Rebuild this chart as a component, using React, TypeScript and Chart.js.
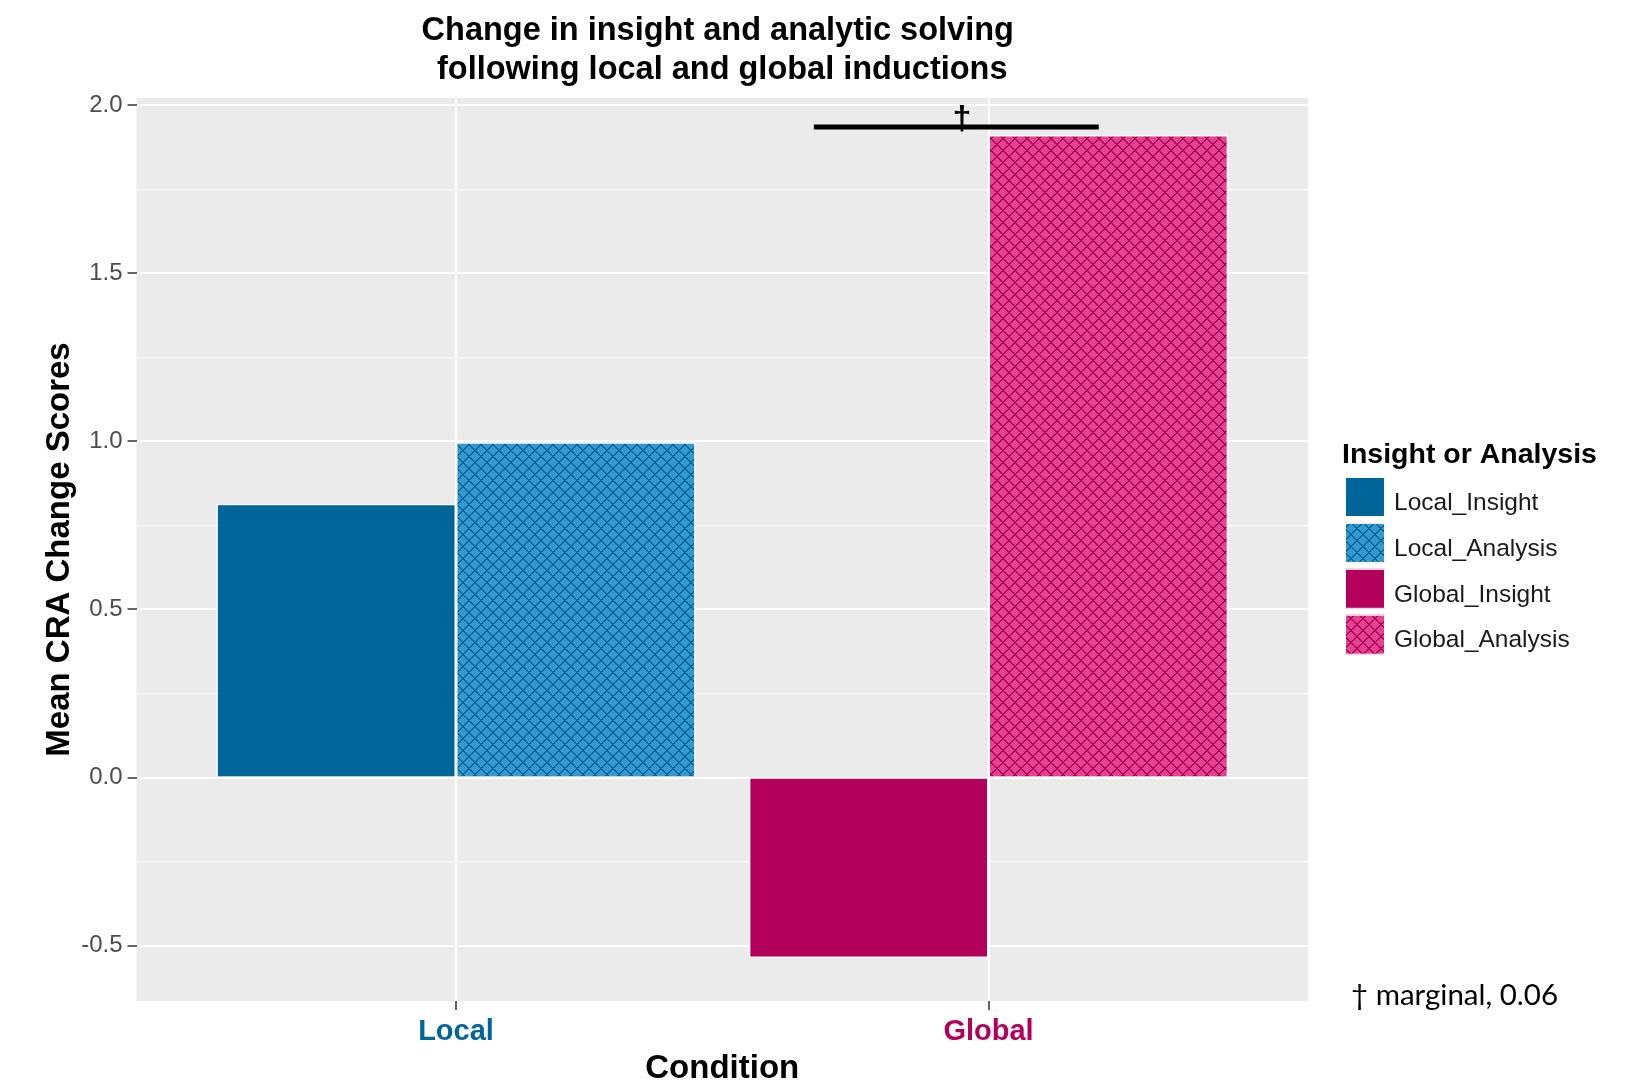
import React, { useEffect, useRef } from 'react';
import { Chart, registerables } from 'chart.js';

Chart.register(...registerables);

// ---- data ----
const categories = ['Local', 'Global'];
const categoryPositions = [1, 2];
const insightValues = [0.815, -0.537];
const analysisValues = [0.998, 1.912];
const legendTitle = 'Insight or Analysis';
const legendLabels = ['Local_Insight', 'Local_Analysis', 'Global_Insight', 'Global_Analysis'];
const yTickValues = [-0.5, -0.25, 0, 0.25, 0.5, 0.75, 1, 1.25, 1.5, 1.75, 2];
const yMajorTicks = [-0.5, 0, 0.5, 1, 1.5, 2];
const sigBracket = { from: 1.672, to: 2.207, y: 1.936, markX: 1.95, mark: '\u2020' };
const footnote = '\u2020 marginal, 0.06';
const titleLines = ['Change in insight and analytic solving ', 'following local and global inductions'];
const xTitle = 'Condition';
const yTitle = 'Mean CRA Change Scores';

// ---- styles ----
const FONT = "'Liberation Sans', Arial, Helvetica, sans-serif";
const categoryColors = ['#006699', '#B5005B'];
const solidColors = { localInsight: '#006699', globalInsight: '#B3005A' };
const patternColors = {
  localAnalysis: { bg: '#3399CC', fg: '#0C67A0' },
  globalAnalysis: { bg: '#E0468F', fg: '#B8005C' },
};

function makePattern(ctx: CanvasRenderingContext2D, bg: string, fg: string) {
  const size = 12;
  const c = document.createElement('canvas');
  c.width = size;
  c.height = size;
  const g = c.getContext('2d')!;
  g.fillStyle = bg;
  g.fillRect(0, 0, size, size);
  g.fillStyle = fg;
  for (let i = 0; i < size; i++) {
    for (let j = 0; j < size; j++) {
      if ((i + j) % size < 2 || (i - j + size) % size < 2) g.fillRect(i, j, 1, 1);
    }
  }
  return ctx.createPattern(c, 'repeat')!;
}

export default function App() {
  const ref = useRef<HTMLCanvasElement | null>(null);

  useEffect(() => {
    const canvas = ref.current!;
    const ctx = canvas.getContext('2d')!;
    const laPat = makePattern(ctx, patternColors.localAnalysis.bg, patternColors.localAnalysis.fg);
    const gaPat = makePattern(ctx, patternColors.globalAnalysis.bg, patternColors.globalAnalysis.fg);
    const legendFills: any[] = [solidColors.localInsight, laPat, solidColors.globalInsight, gaPat];

    const panelBg = {
      id: 'panelBg',
      beforeDraw(chart: any) {
        const { ctx: c, chartArea: a } = chart;
        c.save();
        c.fillStyle = '#EBEBEB';
        c.fillRect(a.left, a.top, a.right - a.left, a.bottom - a.top);
        c.restore();
      },
    };

    const extras = {
      id: 'extras',
      afterDatasetsDraw(chart: any) {
        const c = chart.ctx;
        const xs = chart.scales.x;
        const ys = chart.scales.y;
        c.save();
        const y = ys.getPixelForValue(sigBracket.y);
        c.strokeStyle = '#000';
        c.lineWidth = 5;
        c.beginPath();
        c.moveTo(xs.getPixelForValue(sigBracket.from), y);
        c.lineTo(xs.getPixelForValue(sigBracket.to), y);
        c.stroke();
        c.fillStyle = '#000';
        c.font = `bold 34px ${FONT}`;
        c.textAlign = 'center';
        c.textBaseline = 'alphabetic';
        c.fillText(sigBracket.mark, xs.getPixelForValue(sigBracket.markX), y + 2);
        c.restore();
      },
      afterDraw(chart: any) {
        const c = chart.ctx;
        c.save();
        // legend
        c.fillStyle = '#000';
        c.font = `bold 28.5px ${FONT}`;
        c.textAlign = 'left';
        c.textBaseline = 'middle';
        c.fillText(legendTitle, 1342, 455);
        legendLabels.forEach((lab, i) => {
          const top = 477 + i * 45.9;
          c.fillStyle = legendFills[i];
          c.fillRect(1345, top, 40, 40);
          c.strokeStyle = '#FFFFFF';
          c.lineWidth = 1;
          c.strokeRect(1345.5, top + 0.5, 39, 39);
          c.fillStyle = '#1A1A1A';
          c.font = `24.5px ${FONT}`;
          c.fillText(lab, 1394, top + 26);
        });
        // footnote
        c.fillStyle = '#000';
        c.font = `29.5px Lato, 'Open Sans', sans-serif`;
        c.fillText(footnote, 1351, 995);
        c.restore();
      },
    };

    const chart = new Chart(ctx, {
      type: 'bar',
      data: {
        datasets: [
          {
            label: 'Insight',
            data: categoryPositions.map((x, i) => ({ x, y: insightValues[i] })),
            backgroundColor: [solidColors.localInsight, solidColors.globalInsight],
            borderColor: '#FFFFFF',
            borderWidth: 1.5,
            categoryPercentage: 0.9,
            barPercentage: 1.0,
          },
          {
            label: 'Analysis',
            data: categoryPositions.map((x, i) => ({ x, y: analysisValues[i] })),
            backgroundColor: [laPat, gaPat],
            borderColor: '#FFFFFF',
            borderWidth: 1.5,
            categoryPercentage: 0.9,
            barPercentage: 1.0,
          },
        ],
      },
      options: {
        responsive: false,
        animation: false,
        devicePixelRatio: 1,
        layout: { padding: { left: 0, right: 326, top: 0, bottom: 0 } },
        plugins: {
          legend: { display: false },
          tooltip: { enabled: false },
          title: {
            display: true,
            text: titleLines,
            fullSize: false,
            color: '#000',
            font: { family: FONT, size: 32.5, weight: 'bold', lineHeight: 1.2 },
            padding: { top: 12, bottom: 8 },
          },
        },
        scales: {
          x: {
            type: 'linear',
            min: 0.4,
            max: 2.6,
            offset: false,
            afterBuildTicks: (scale: any) => {
              scale.ticks = categoryPositions.map((v) => ({ value: v }));
            },
            afterFit: (scale: any) => {
              scale.height = 82;
            },
            border: { display: false },
            grid: {
              offset: false,
              color: '#FFFFFF',
              lineWidth: 2,
              drawTicks: true,
              tickLength: 9,
              tickColor: '#333333',
              tickWidth: 1.5,
            },
            ticks: {
              padding: 5,
              autoSkip: false,
              maxRotation: 0,
              font: { family: FONT, size: 29, weight: 'bold' },
              color: (c: any) => categoryColors[c.index] || '#333',
              callback: (v: any) => {
                const i = categoryPositions.indexOf(Number(v));
                return i >= 0 ? categories[i] : '';
              },
            },
            title: {
              display: true,
              text: xTitle,
              color: '#000',
              font: { family: FONT, size: 33, weight: 'bold', lineHeight: 0.85 },
              padding: { top: 0, bottom: 0 },
            },
          },
          y: {
            type: 'linear',
            min: -0.665,
            max: 2.022,
            afterBuildTicks: (scale: any) => {
              scale.ticks = yTickValues.map((v) => ({ value: v }));
            },
            afterFit: (scale: any) => {
              scale.width = 136.5;
            },
            border: { display: false },
            grid: {
              color: '#FFFFFF',
              lineWidth: (c: any) => (c.tick && yMajorTicks.includes(c.tick.value) ? 2 : 1.2),
              drawTicks: true,
              tickLength: 9,
              tickColor: (c: any) =>
                c.tick && yMajorTicks.includes(c.tick.value) ? '#333333' : 'rgba(0,0,0,0)',
              tickWidth: 1.5,
            },
            ticks: {
              padding: 5,
              autoSkip: false,
              font: { family: FONT, size: 24 },
              color: '#4D4D4D',
              callback: (v: any) => (yMajorTicks.includes(Number(v)) ? Number(v).toFixed(1) : ''),
            },
            title: {
              display: true,
              text: yTitle,
              color: '#000',
              font: { family: FONT, size: 33, weight: 'bold', lineHeight: 1.2 },
              padding: { top: 40, bottom: 0 },
            },
          },
        },
      },
      plugins: [panelBg, extras],
    } as any);

    return () => chart.destroy();
  }, []);

  return (
    <div style={{ position: 'fixed', left: 0, top: 0, width: 1634, height: 1083, background: '#FFFFFF' }}>
      <canvas ref={ref} width={1634} height={1083} style={{ width: 1634, height: 1083, display: 'block' }} />
    </div>
  );
}
